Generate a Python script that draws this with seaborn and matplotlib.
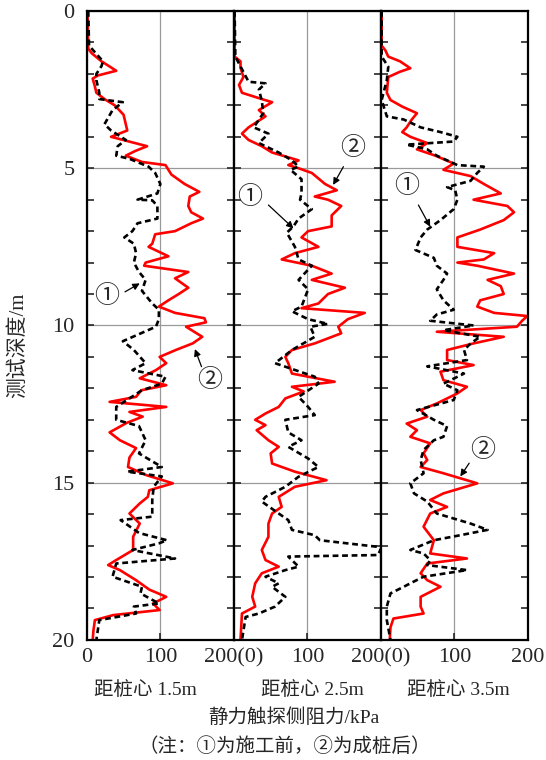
import numpy as np
import pandas as pd
import matplotlib
matplotlib.use("Agg")
import matplotlib.pyplot as plt
from matplotlib.ticker import MultipleLocator
import seaborn as sns

# 1. Data: depth (m) and side resistance (kPa)
# panel 1 - 1.5 m from pile centre
p1_after_depth = [0, 1.2, 1.35, 1.6, 1.9, 2.05, 2.15, 2.4, 2.6, 2.8, 3.0, 3.3, 3.5, 3.8, 4.0, 4.3, 4.45,
                  4.6, 4.8, 4.9, 5.2, 5.5, 5.75, 5.9, 6.2, 6.4, 6.6, 6.75, 7.0, 7.1, 7.4, 7.5, 7.8, 8.0,
                  8.1, 8.3, 8.5, 8.8, 9.0, 9.2, 9.4, 9.6, 9.77, 9.9, 10.04, 10.36, 10.57, 10.78, 11.0,
                  11.2, 11.42, 11.68, 11.9, 12.06, 12.27, 12.43, 12.59, 12.75, 12.9, 13.1, 13.4, 13.65,
                  13.9, 14.2, 14.5, 14.76, 15.02, 15.24, 15.45, 15.66, 15.98, 16.3, 16.72, 17.14, 17.46,
                  17.62, 17.78, 18.1, 18.4, 18.63, 18.84, 19.05, 19.21, 19.37, 19.7, 20]
p1_after_val = [1, 2, 7, 20, 40, 15, 8, 11, 13, 24, 38, 50, 52, 55, 33, 82, 66,
                53, 75, 107, 115, 133, 153, 140, 138, 142, 158, 142, 120, 93, 89, 84, 111, 80,
                78, 138, 120, 138, 125, 111, 98, 120, 160, 162, 135, 157, 144, 121, 99,
                108, 94, 72, 108, 74, 67, 31, 108, 58, 76, 54, 31, 45,
                67, 58, 56, 81, 117, 85, 83, 72, 58, 72, 63, 63, 40,
                29, 45, 67, 85, 108, 90, 99, 36, 11, 9, 8]
p1_before_depth = [0, 1.1, 1.6, 1.75, 2.0, 2.2, 2.6, 2.8, 2.9, 3.15, 3.6, 3.8, 4.1, 4.3, 4.6, 4.7, 4.95,
                   5.15, 5.5, 5.8, 6.0, 6.02, 6.2, 6.6, 6.75, 7.0, 7.2, 7.4, 7.7, 8.0, 8.3, 8.55, 8.9,
                   9.3, 9.5, 9.8, 10.04, 10.5, 10.78, 11.2, 11.42, 11.63, 11.85, 12.06, 12.59, 13.0,
                   13.2, 13.65, 14.07, 14.5, 14.65, 14.8, 15.13, 15.55, 16.08, 16.19, 16.6, 16.83,
                   16.93, 17.14, 17.41, 17.57, 17.99, 18.31, 18.52, 18.84, 18.94, 19.16, 19.37, 20]
p1_before_val = [2, 3, 22, 20, 13, 13, 17, 17, 49, 35, 24, 33, 53, 42, 40, 58, 84,
                 93, 100, 96, 69, 89, 96, 96, 69, 62, 51, 64, 67, 64, 71, 80, 75,
                 89, 98, 98, 94, 49, 64, 80, 62, 107, 102, 75, 40, 40,
                 71, 80, 71, 102, 55, 102, 91, 89, 89, 46, 71, 109,
                 98, 62, 120, 40, 35, 75, 73, 98, 64, 67, 17, 13]

# panel 2 - 2.5 m from pile centre
p2_after_depth = [0, 1.45, 1.6, 1.8, 2.1, 2.35, 2.6, 2.8, 2.9, 3.15, 3.35, 3.7, 3.9, 4.1, 4.3, 4.5, 4.75,
                  4.9, 5.0, 5.15, 5.5, 5.7, 5.9, 6.0, 6.2, 6.5, 6.85, 7.0, 7.2, 7.5, 7.7, 7.9, 8.1,
                  8.35, 8.55, 8.8, 9.0, 9.3, 9.45, 9.6, 9.8, 10.04, 10.25, 10.57, 10.78, 11.0, 11.2,
                  11.53, 11.79, 11.95, 12.1, 12.32, 12.59, 12.8, 13.0, 13.17, 13.33, 13.65, 13.86,
                  14.07, 14.39, 14.65, 14.92, 15.13, 15.45, 15.77, 15.98, 16.3, 16.72, 17.14, 17.46,
                  17.67, 17.88, 18.2, 18.63, 18.94, 19.16, 20]
p2_after_val = [1, 1, 9, 9, 13, 7, 11, 38, 52, 34, 43, 20, 11, 20, 38, 52, 88,
                74, 88, 106, 124, 140, 110, 128, 146, 133, 133, 101, 92, 115, 83, 65, 106,
                133, 106, 151, 128, 115, 92, 178, 155, 142, 146, 110, 79, 70, 74,
                79, 137, 79, 95, 70, 61, 43, 29, 43, 31, 47, 61,
                50, 52, 83, 126, 83, 61, 65, 52, 47, 47, 38, 43,
                61, 38, 29, 25, 29, 11, 9]
p2_before_depth = [0, 1.45, 1.85, 2.25, 2.3, 2.5, 2.85, 3.25, 3.7, 3.9, 4.2, 4.5, 4.75, 4.95, 5.05, 5.35,
                   5.8, 6.0, 6.3, 6.6, 6.85, 7.05, 7.5, 7.9, 8.1, 8.55, 8.85, 9.4, 9.55, 9.8, 9.95,
                   10.04, 10.36, 10.78, 11.2, 11.63, 11.85, 12.27, 12.59, 12.85, 13.0, 13.4, 13.65,
                   13.86, 14.23, 14.5, 14.81, 15.13, 15.45, 15.6, 15.98, 16.19, 16.5, 16.67, 16.83,
                   17.04, 17.1, 17.3, 17.35, 17.67, 17.78, 17.99, 18.2, 18.31, 18.63, 18.94, 19.16,
                   19.27, 20]
p2_before_val = [1, 2, 11, 20, 43, 34, 38, 40, 27, 47, 34, 61, 79, 88, 77, 92,
                 92, 90, 106, 88, 81, 72, 83, 88, 106, 88, 101, 92, 79, 101, 128,
                 104, 110, 79, 56, 110, 115, 88, 101, 110, 70, 74, 92,
                 74, 101, 115, 88, 70, 43, 38, 61, 74, 79, 110, 117,
                 196, 200, 196, 74, 88, 70, 43, 61, 52, 70, 56, 34,
                 16, 11]

# panel 3 - 3.5 m from pile centre
p3_after_depth = [0, 1.1, 1.25, 1.45, 1.6, 1.82, 1.93, 2.1, 2.6, 2.83, 3.04, 3.25, 3.45, 3.7, 3.85, 4.0,
                  4.2, 4.4, 4.6, 4.85, 5.05, 5.25, 5.5, 5.8, 6.0, 6.2, 6.4, 6.65, 6.95, 7.2, 7.5, 7.7,
                  7.9, 8.0, 8.1, 8.35, 8.55, 8.75, 9.0, 9.2, 9.4, 9.6, 9.7, 9.85, 10.04, 10.2, 10.36,
                  10.57, 10.78, 11.1, 11.26, 11.47, 11.74, 11.95, 12.16, 12.48, 12.69, 12.9, 13.12,
                  13.33, 13.54, 13.75, 14.07, 14.28, 14.5, 14.7, 15.02, 15.34, 15.55, 15.77, 15.98,
                  16.4, 16.83, 17.25, 17.41, 17.57, 17.88, 18.1, 18.31, 18.63, 18.94, 19.16, 19.32,
                  19.6, 20]
p3_after_val = [1, 1, 6, 10, 26, 40, 26, 10, 8, 13, 29, 49, 42, 35, 29, 40,
                63, 49, 74, 99, 85, 122, 140, 163, 126, 172, 181, 167, 135, 104, 104, 154,
                140, 104, 131, 181, 145, 163, 167, 135, 131, 154, 199, 192, 185, 76, 167,
                126, 90, 90, 126, 81, 85, 117, 104, 76, 54, 63, 35,
                49, 40, 67, 58, 63, 54, 85, 131, 85, 67, 90, 67,
                58, 72, 67, 117, 63, 54, 63, 81, 54, 54, 58, 17,
                13, 12]
p3_before_depth = [0, 1.45, 1.77, 2.2, 2.83, 3.35, 3.45, 3.7, 3.85, 4.0, 4.15, 4.25, 4.4, 4.6, 4.9, 4.95,
                   5.15, 5.4, 5.6, 5.7, 6.0, 6.3, 6.65, 6.95, 7.2, 7.6, 7.85, 8.1, 8.35, 8.55, 8.85,
                   9.2, 9.5, 9.65, 9.85, 10.0, 10.15, 10.36, 10.57, 10.78, 11.1, 11.3, 11.53, 11.85,
                   12.06, 12.37, 12.69, 13.0, 13.2, 13.54, 13.65, 13.96, 14.28, 14.7, 15.02, 15.34,
                   15.6, 15.98, 16.3, 16.5, 16.67, 16.83, 17.14, 17.25, 17.46, 17.62, 17.78, 17.99,
                   18.2, 18.31, 18.52, 18.94, 19.37, 20]
p3_before_val = [1, 1, 10, 8, 1, 8, 31, 54, 81, 104, 99, 35, 63, 76, 104, 140,
                 131, 122, 90, 101, 104, 99, 81, 63, 54, 47, 72, 76, 90, 85, 76,
                 85, 99, 76, 67, 126, 85, 135, 122, 113, 117, 63, 113, 85,
                 104, 99, 49, 72, 90, 85, 72, 58, 54, 58, 40, 45,
                 63, 76, 122, 145, 108, 72, 40, 58, 67, 63, 117, 58,
                 40, 31, 13, 8, 8, 13]

panel_names = ["距桩心 1.5m", "距桩心 2.5m", "距桩心 3.5m"]
x_ticklabels = [["0", "100", "200(0)"], ["", "100", "200(0)"], ["", "100", "200"]]

# annotation spots per panel: (label, text pos, arrow tail, arrow tip) in data units
notes = [
    [("①", (27, 9.05), (52, 8.93), (72, 8.66)), ("②", (167, 11.75), (156, 11.31), (147, 10.75))],
    [("①", (22, 5.9), (47, 6.17), (81, 6.91)), ("②", (162, 4.37), (149, 4.95), (135, 5.53))],
    [("①", (35, 5.55), (51, 6.17), (67, 6.86)), ("②", (139, 13.96), (120, 14.38), (108, 14.8))],
]

series = [
    (p1_after_depth, p1_after_val, p1_before_depth, p1_before_val),
    (p2_after_depth, p2_after_val, p2_before_depth, p2_before_val),
    (p3_after_depth, p3_after_val, p3_before_depth, p3_before_val),
]

# 2. Style
sns.set_style("white")
plt.rcParams["font.family"] = ["Liberation Serif", "Noto Sans CJK SC", "DejaVu Sans"]
cjk = ["Liberation Serif", "Noto Sans CJK SC"]

fig, axes = plt.subplots(1, 3, figsize=(5.46, 7.6), dpi=100, sharey=True)
fig.subplots_adjust(left=0.159, right=0.967, top=0.9855, bottom=0.158, wspace=0)

# 3. Draw panels
for i, ax in enumerate(axes):
    ad, av, bd, bv = series[i]
    after = pd.DataFrame({"depth": ad, "val": av})
    before = pd.DataFrame({"depth": bd, "val": bv})
    sns.lineplot(data=after, x="val", y="depth", sort=False, estimator=None,
                 color="#ff0000", lw=1.9, ax=ax)
    sns.lineplot(data=before, x="val", y="depth", sort=False, estimator=None,
                 color="black", lw=1.9, linestyle=(0, (2.2, 1.4)), ax=ax)

    ax.set_xlim(0, 200)
    ax.set_ylim(20, 0)
    ax.set_xlabel("")
    ax.set_ylabel("")
    ax.set_xticks([0, 100, 200])
    ax.set_xticklabels(x_ticklabels[i])
    ax.yaxis.set_major_locator(MultipleLocator(5))
    ax.yaxis.set_minor_locator(MultipleLocator(1))
    ax.grid(True, which="major", color="#999999", lw=0.9)
    ax.set_axisbelow(True)
    ax.tick_params(axis="both", which="both", direction="in", length=5, width=1.2,
                   left=True, right=True, bottom=True, top=False, labelsize=16, pad=6)
    ax.tick_params(axis="y", which="major", pad=9)
    for s in ax.spines.values():
        s.set_visible(True)
        s.set_color("black")
        s.set_linewidth(1.6)

    for lab, tpos, tail, tip in notes[i]:
        ax.text(tpos[0], tpos[1], lab, fontsize=18, family="Noto Sans CJK SC",
                ha="center", va="center")
        ax.annotate("", xy=tip, xytext=tail,
                    arrowprops=dict(arrowstyle="-|>", color="black", lw=0.9,
                                    mutation_scale=10, shrinkA=0, shrinkB=0))

# 4. Labels
W, H = 546, 760
for x_px, name in zip([145, 312, 458], panel_names):
    fig.text(x_px / W, 1 - 690 / H, name, ha="center", va="center", fontsize=14, family=cjk)
fig.text(294 / W, 1 - 718 / H, "静力触探侧阻力/kPa", ha="center", va="center", fontsize=14, family=cjk)
fig.text(285 / W, 1 - 746 / H, "（注：①为施工前，②为成桩后）", ha="center", va="center",
         fontsize=14, family=["Noto Sans CJK SC"])
fig.text(18 / W, 1 - 345 / H, "测试深度/m", ha="center", va="center", rotation=90,
         fontsize=15, family=cjk)

fig.savefig("out.png", dpi=100)
